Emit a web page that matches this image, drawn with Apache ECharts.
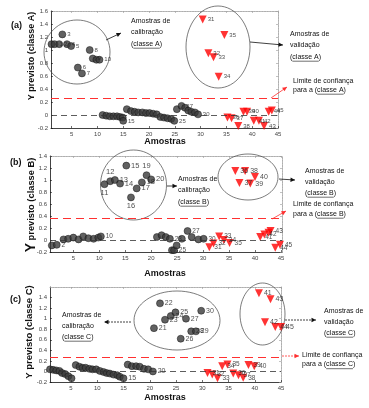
<!DOCTYPE html>
<html><head><meta charset="utf-8">
<script src="https://cdn.jsdelivr.net/npm/echarts@6/dist/echarts.min.js"></script>
<style>html,body{margin:0;padding:0;background:#fff}#c{width:369px;height:408px}</style>
</head><body><div id="c"></div>
<script>
// ---------------- DATA ----------------
// each point: [sample position, predicted Y, sample label]
const xTickValues = [5, 10, 15, 20, 25, 30, 35, 40, 45];

// Panel (a) – class A model
const aCalibClassA = [[1.1,1.09,''],[1.7,1.09,'1'],[2.6,1.09,'2'],[3.2,1.24,'3'],[4.1,1.09,'4'],[4.9,1.06,'5'],[6.2,0.73,'6'],[7.0,0.64,'7'],[8.5,1.00,'8'],[9.1,0.87,'9'],[9.8,0.85,''],[10.4,0.85,'10']];
const aCalibOthers = [[11.0,0.00,''],[11.7,-0.01,''],[12.4,-0.02,''],[13.1,-0.02,''],[13.8,-0.02,''],[14.4,-0.03,''],[14.9,-0.04,''],[15.0,-0.09,'15'],
  [15.7,0.09,''],[16.5,0.06,''],[17.2,0.05,''],[17.9,0.04,''],[18.7,0.04,''],[19.4,0.03,''],[20.1,0.03,''],[20.8,0.02,''],[21.5,0.01,''],[22.2,-0.03,''],[22.9,-0.04,''],[23.6,-0.05,''],[24.3,-0.06,''],[24.9,-0.09,'25'],
  [25.4,0.09,''],[26.3,0.14,'27'],[27.0,0.11,''],[27.6,0.07,''],[28.2,0.05,''],[28.9,0.04,''],[29.5,0.01,'30']];
const aValidClassA = [[30.4,1.47,'31'],[31.5,0.95,'32'],[32.5,0.89,'33'],[33.5,0.59,'34'],[34.6,1.23,'35']];
const aValidOthers = [[35.2,-0.04,'36'],[36.0,-0.05,'37'],[37.3,-0.17,'38'],[38.3,0.05,'39'],[39.0,0.05,'40'],[40.3,-0.09,'41'],[41.3,-0.09,'42'],[42.3,-0.17,'43'],[43.2,0.05,'44'],[43.8,0.07,'45']];
const aLimit = 0.26;

// Panel (b) – class B model
const bCalibOthers1 = [[0.85,-0.09,''],[1.8,-0.08,'2'],[3.1,0.01,''],[4.0,0.02,''],[5.0,0.04,''],[6.0,0.01,''],[6.9,0.06,''],[7.9,0.03,''],[8.9,0.02,''],[9.8,0.04,''],[10.3,0.06,'10']];
const bCalibClassB = [[11.0,0.93,'11'],[12.1,0.98,'12'],[13.0,1.00,'13'],[14.0,0.94,'14'],[15.2,1.24,'15'],[16.1,0.71,'16'],[17.2,0.86,'17'],[18.2,0.96,'18'],[19.1,1.08,'19'],[20.0,1.01,'20']];
const bCalibOthers2 = [[21.1,0.05,''],[22.0,0.08,''],[22.8,0.05,''],[23.6,0.02,'23'],[24.0,-0.17,''],[24.4,-0.17,'25'],[24.9,-0.09,''],[25.9,0.02,''],[27.0,0.15,'27'],[27.8,0.05,''],[29.1,0.01,''],[30.1,0.02,'30']];
const bValidClassB = [[36.2,1.15,'36'],[37.0,0.95,'37'],[38.1,1.15,'38'],[39.1,0.94,'39'],[40.0,1.05,'40']];
const bValidOthers = [[31.2,-0.12,'31'],[32.0,-0.06,'32'],[33.1,0.06,'33'],[34.0,0.00,'34'],[35.1,-0.05,'35'],[41.0,0.05,'41'],[41.8,0.09,'42'],[42.6,0.12,''],[43.0,0.15,'43'],[43.9,-0.13,'44'],[44.8,-0.08,'45']];
const bLimit = 0.36;

// Panel (c) – class C model
const cCalibOthers = [[1.0,0.04,''],[1.6,0.03,''],[2.2,0.02,''],[2.8,0.01,''],[3.3,-0.03,''],[3.9,-0.05,''],[4.5,-0.09,''],[5.1,-0.13,''],
  [5.9,0.12,''],[6.6,0.09,''],[7.2,0.07,''],[7.8,0.07,''],[8.5,0.05,''],[9.1,0.04,''],[9.8,0.04,''],[10.5,0.01,''],[11.2,-0.01,''],[11.8,-0.03,''],[12.4,-0.04,''],[13.1,-0.06,''],[13.8,-0.07,''],[14.3,-0.10,''],[15.0,-0.13,'15'],
  [15.8,0.13,''],[16.6,0.10,''],[17.4,0.10,''],[18.1,0.09,''],[18.9,0.05,''],[19.7,0.04,''],[20.6,0.00,'20']];
const cCalibClassC = [[20.8,0.82,'21'],[21.95,1.29,'22'],[22.9,0.98,'23'],[24.0,1.05,'24'],[24.9,1.12,'25'],[25.9,0.62,'26'],[26.9,1.00,'27'],[27.9,0.76,'28'],[28.8,0.76,'29'],[29.8,1.15,'30']];
const cValidOthers = [[31.0,-0.03,'31'],[31.9,-0.06,'32'],[32.9,-0.13,'33'],[33.8,0.10,'34'],[34.8,0.13,'35'],[35.9,-0.04,'36'],[36.9,-0.07,'37'],[37.8,-0.12,'38'],[38.8,0.12,'39'],[39.9,0.10,'40']];
const cValidClassC = [[40.8,1.48,'41'],[41.95,0.93,'42'],[43.0,1.37,'43'],[43.9,0.84,'44'],[45.0,0.84,'45']];
const cLimit = 0.27;

// ---------------- STYLE / LAYOUT ----------------
const FONT = 'Liberation Sans';
const grids = [
  {left:51, top:11, width:227, height:117},
  {left:50, top:156, width:232, height:96},
  {left:50, top:287, width:231, height:95}
];
const xRange = [[1,45],[0.5,45.2],[1,45]];
const yRange = [[-0.2,1.6],[-0.2,1.4],[-0.2,1.6]];

function xAx(i, top) {
  return {type:'value', gridIndex:i, min:xRange[i][0], max:xRange[i][1], position: top?'top':'bottom',
    axisLine:{show:true, onZero:false, lineStyle: top?{color:'#999', width:0.8, type:'dotted'}:{color:'#111', width:0.8}},
    axisTick:{show:true, inside:true, length:2, customValues:xTickValues, lineStyle:{color: top?'#999':'#111', width:0.6}},
    axisLabel:{show:!top, customValues:xTickValues, fontSize:6, color:'#444', margin:3, fontFamily:FONT},
    splitLine:{show:false}};
}
function yAx(i, right) {
  return {type:'value', gridIndex:i, min:yRange[i][0], max:yRange[i][1], interval:0.2, position: right?'right':'left',
    axisLine:{show:true, onZero:false, lineStyle: right?{color:'#999', width:0.8, type:'dotted'}:{color:'#111', width:0.8}},
    axisTick:{show:true, inside:true, length:2, lineStyle:{color: right?'#999':'#111', width:0.6}},
    axisLabel:{show:!right, fontSize:6, color:'#444', margin:3, fontFamily:FONT, showMaxLabel: i===2 ? false : true,
      formatter: v => String(Math.round(v*10)/10)},
    splitLine:{show:false}};
}

function pts(i, data, kind, fs, placement) {
  const val = kind === 'val';
  return {
    type:'scatter', xAxisIndex:i, yAxisIndex:i, clip:false,
    data: data.map(d => {
      const o = {value:[d[0], d[1]], name:d[2]};
      if (placement && placement[d[2]]) o.label = {position: placement[d[2]]};
      return o;
    }),
    symbol: val ? 'triangle' : 'circle',
    symbolRotate: val ? 180 : 0,
    symbolSize: val ? 8 : 7,
    itemStyle: val ? {color:'#ff0000'} : {color:'#3a3a3a', borderColor:'#111', borderWidth:0.6},
    label:{show:true, formatter: p => p.name, position:'right', distance:1, fontSize:fs, color:'#222', fontFamily:FONT},
    z: val ? 4 : 3
  };
}
function limits(i, lim) {
  return {type:'scatter', xAxisIndex:i, yAxisIndex:i, data:[], silent:true,
    markLine:{silent:true, symbol:['none','none'], label:{show:false}, animation:false,
      data:[{yAxis:0, lineStyle:{color:'#333', type:[6,4], width:0.8}},
            {yAxis:lim, lineStyle:{color:'#ff3030', type:[8,5], width:1}}]}};
}

const placeB = {'11':'bottom','12':'top','16':'bottom','19':'top','13':'right','14':'right'};

const series = [
  limits(0, aLimit), limits(1, bLimit), limits(2, cLimit),
  pts(0, aCalibClassA, 'cal', 6), pts(0, aCalibOthers, 'cal', 6),
  pts(0, aValidClassA, 'val', 6), pts(0, aValidOthers, 'val', 6),
  pts(1, bCalibOthers1, 'cal', 6.5), pts(1, bCalibClassB, 'cal', 7.5, placeB), pts(1, bCalibOthers2, 'cal', 6.5),
  pts(1, bValidClassB, 'val', 7), pts(1, bValidOthers, 'val', 6.5),
  pts(2, cCalibOthers, 'cal', 7), pts(2, cCalibClassC, 'cal', 7),
  pts(2, cValidOthers, 'val', 6.5), pts(2, cValidClassC, 'val', 7)
];

// ---------------- ANNOTATIONS ----------------
const gfx = [];
const mctx = document.createElement('canvas').getContext('2d');
function mw(t, fs, bold) { mctx.font = (bold?'bold ':'') + fs + 'px "' + FONT + '"'; return mctx.measureText(t).width; }
function T(x, y, text, fs, extra) {
  gfx.push(Object.assign({type:'text', x, y, z:20,
    style:Object.assign({text, fontSize:fs, fontFamily:FONT, fill:'#111', align:'left', verticalAlign:'middle'}, (extra&&extra.style)||{})},
    extra&&extra.rotation!==undefined?{rotation:extra.rotation}:{}));
}
function L(x1,y1,x2,y2,color,w,dash) {
  gfx.push({type:'line', z:19, shape:{x1,y1,x2,y2}, style:{stroke:color, lineWidth:w||0.7, lineDash:dash||null}});
}
function U(x, y, pre, word, fs) { // underline word after prefix
  const a = x + mw(pre, fs), b = a + mw(word, fs);
  L(a, y + fs*0.6, b, y + fs*0.6, '#111', 0.6);
}
function A(x1,y1,x2,y2,color,dash) {
  L(x1,y1,x2,y2,color,0.8,dash);
  const ang = Math.atan2(y2-y1, x2-x1), len = 4.5, hw = 2.2;
  const bx = x2 - len*Math.cos(ang), by = y2 - len*Math.sin(ang);
  gfx.push({type:'polygon', z:19, shape:{points:[[x2,y2],[bx - hw*Math.sin(ang), by + hw*Math.cos(ang)],[bx + hw*Math.sin(ang), by - hw*Math.cos(ang)]]}, style:{fill:color}});
}
function E(cx,cy,rx,ry) {
  gfx.push({type:'ellipse', z:2, shape:{cx,cy,rx,ry}, style:{fill:'none', stroke:'#444', lineWidth:0.7}});
}
function block(x, y, lines, cls, fs, gap) {
  lines.forEach((t, k) => T(x, y + k*gap, t, fs));
  const last = lines[lines.length-1];
  const pre = last.slice(0, last.indexOf('(') + 1);
  U(x, y + (lines.length-1)*gap, pre, cls, fs);
}
const FS = 7;
const rot = Math.PI/2;

// panel labels
T(11, 26, '(a)', 9, {style:{fontWeight:'bold'}});
T(10, 163, '(b)', 9, {style:{fontWeight:'bold'}});
T(10, 300, '(c)', 9, {style:{fontWeight:'bold'}});
// axis titles
T(32, 56, 'Y previsto (classe A)', 9, {rotation:rot, style:{fontWeight:'bold', align:'center'}});
T(31, 205, '{big|Y} previsto (classe B)', 9.3, {rotation:rot, style:{fontWeight:'bold', align:'center', rich:{big:{fontSize:14, fontWeight:'bold', fontFamily:FONT}}}});
T(29, 332, 'Y previsto (classe C)', 9.5, {rotation:rot, style:{fontWeight:'bold', align:'center'}});
T(165, 142, 'Amostras', 9, {style:{fontWeight:'bold', align:'center'}});
T(165, 274, 'Amostras', 9, {style:{fontWeight:'bold', align:'center'}});
T(165, 398, 'Amostras', 9, {style:{fontWeight:'bold', align:'center'}});

// panel (a)
E(77, 52, 33, 32);
E(218, 47, 32, 41);
A(106, 40, 121, 33, '#111');
block(131, 21, ['Amostras de', 'calibração', '(classe A)'], 'classe A', FS, 11.5);
A(250, 42, 283, 45, '#111');
block(290, 34, ['Amostras de', 'validação', '(classe A)'], 'classe A', FS, 11.5);
block(293, 81, ['Limite de confiança', 'para a (classe A)'], 'classe A', FS, 9);
A(271, 98, 287, 87, '#ff3030');

// panel (b)
E(133.5, 185, 33, 35);
E(248, 177, 30, 23);
A(167, 186, 177, 186, '#111');
block(178, 179, ['Amostras de', 'calibração', '(classe B)'], 'classe B', FS, 11.5);
A(279, 179, 295, 180, '#111');
block(305, 171, ['Amostras de', 'validação', '(classe B)'], 'classe B', FS, 11);
block(293, 204, ['Limite de confiança', 'para a (classe B)'], 'classe B', FS, 10);
A(272, 219, 286, 211, '#ff3030');

// panel (c)
E(177, 320.5, 43, 29.5);
E(262.5, 314, 22.5, 31);
A(131, 322, 104, 322, '#111', [2,1]);
block(62, 315, ['Amostras de', 'calibração', '(classe C)'], 'classe C', FS, 11);
A(285, 320, 316, 320, '#111', [2,1]);
block(324, 311, ['Amostras de', 'validação', '(classe C)'], 'classe C', FS, 11);
block(302, 355, ['Limite de confiança', 'para a (classe C)'], 'classe C', FS, 9.5);
A(282, 356, 299, 356, '#ff3030', [2,1]);

const chart = echarts.init(document.getElementById('c'), null, {renderer:'canvas'});
chart.setOption({
  animation:false,
  backgroundColor:'#fff',
  grid: grids.map(g => Object.assign({containLabel:false}, g)),
  xAxis: [xAx(0), xAx(1), xAx(2), xAx(0,true), xAx(1,true), xAx(2,true)],
  yAxis: [yAx(0), yAx(1), yAx(2), yAx(0,true), yAx(1,true), yAx(2,true)],
  series,
  graphic: gfx
});
</script></body></html>
